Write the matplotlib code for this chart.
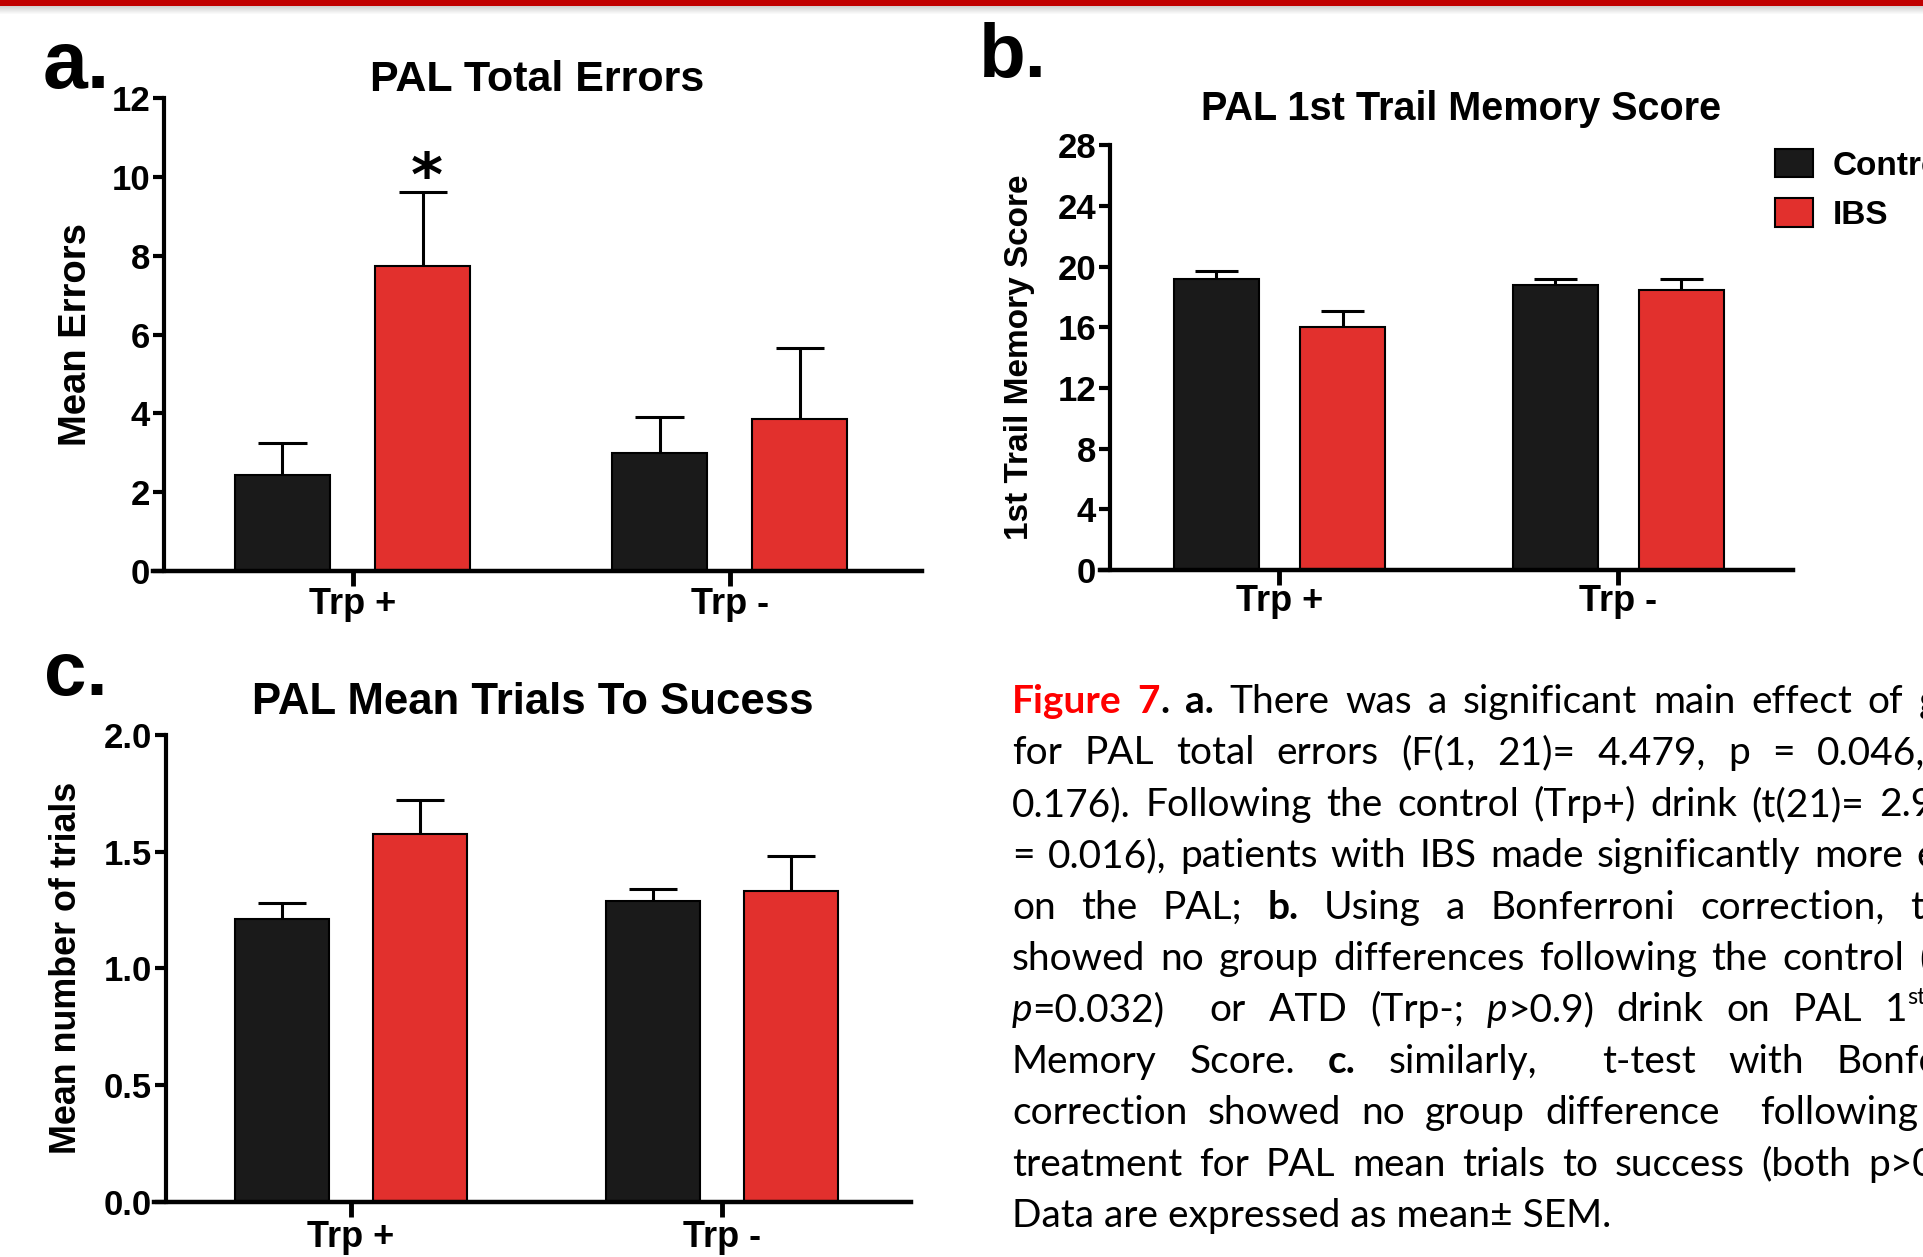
import numpy as np
import matplotlib
matplotlib.use('Agg')
import matplotlib.pyplot as plt
from matplotlib.patches import Rectangle, Patch

W, H = 1924, 1257

groups = ['Trp +', 'Trp -']
series = ['Control', 'IBS']

# a. PAL total errors (mean, SEM)
err_ctrl = [2.43, 2.99]
err_ctrl_sem = [0.83, 0.92]
err_ibs = [7.75, 3.86]
err_ibs_sem = [1.87, 1.80]

# b. PAL 1st trail memory score
mem_ctrl = [19.2, 18.78]
mem_ctrl_sem = [0.54, 0.39]
mem_ibs = [16.0, 18.44]
mem_ibs_sem = [1.10, 0.76]

# c. PAL mean trials to success
tri_ctrl = [1.213, 1.288]
tri_ctrl_sem = [0.066, 0.051]
tri_ibs = [1.575, 1.33]
tri_ibs_sem = [0.148, 0.15]

BLACK = '#1a1a1a'
RED = '#e2302d'

plt.rcParams['font.family'] = 'Liberation Sans'
plt.rcParams['font.weight'] = 'bold'
plt.rcParams['mathtext.fontset'] = 'custom'

fig = plt.figure(figsize=(W / 100, H / 100), dpi=100)
fig.patch.set_facecolor('white')


def px_rect(left, right, top, bottom):
    return [left / W, 1 - bottom / H, (right - left) / W, (bottom - top) / H]


def panel(rect, xlim, ctrl, ctrl_sem, ibs, ibs_sem, ymax, yticks, ylabel, ylsize, ylx, xpad):
    ax = fig.add_axes(rect)
    x = np.arange(len(groups))
    for vals, sems, off, col in [(ctrl, ctrl_sem, -0.186, BLACK), (ibs, ibs_sem, 0.186, RED)]:
        xs = x + off
        vals = np.array(vals)
        tops = vals + np.array(sems)
        ax.vlines(xs, vals, tops, color='black', lw=2.2, zorder=1)
        ax.hlines(tops, xs - 0.064, xs + 0.064, color='black', lw=2.2, zorder=1)
        ax.bar(xs, vals, width=0.252, color=col, edgecolor='black', linewidth=1.5, zorder=2)
    ax.set_xlim(*xlim)
    ax.set_ylim(0, ymax)
    ax.set_yticks(yticks)
    ax.set_xticks(x, groups)
    for s in ['top', 'right']:
        ax.spines[s].set_visible(False)
    ax.spines['left'].set_position(('data', -0.5))
    ax.spines['left'].set_linewidth(3)
    ax.spines['bottom'].set_linewidth(3.2)
    ax.tick_params(axis='y', length=8, width=3, labelsize=25, pad=2)
    ax.tick_params(axis='x', length=11, width=3.5, labelsize=26, pad=xpad)
    ax.set_ylabel(ylabel, fontsize=ylsize, fontweight='bold')
    ax.yaxis.set_label_coords(ylx, 0.5)
    ax.patch.set_alpha(0)
    return ax


ax_a = panel(px_rect(152.7, 922, 98, 571), (-0.53, 1.51),
             err_ctrl, err_ctrl_sem, err_ibs, err_ibs_sem,
             12, [0, 2, 4, 6, 8, 10, 12], 'Mean Errors', 27.5, -0.076, 0.5)
ax_b = panel(px_rect(1099.8, 1793, 145.5, 570), (-0.53, 1.515),
             mem_ctrl, mem_ctrl_sem, mem_ibs, mem_ibs_sem,
             28, [0, 4, 8, 12, 16, 20, 24, 28], '1st Trail Memory Score', 24, -0.0935, -1)
ax_c = panel(px_rect(154.4, 911, 735, 1201.7), (-0.53, 1.51),
             tri_ctrl, tri_ctrl_sem, tri_ibs, tri_ibs_sem,
             2.0, [0.0, 0.5, 1.0, 1.5, 2.0], 'Mean number of trials', 25.8, -0.093, 2.2)
ax_c.yaxis.set_major_formatter(matplotlib.ticker.FormatStrFormatter('%.1f'))

# significance star over IBS Trp+
ax_a.annotate('*', xy=(0.186, err_ibs[0] + err_ibs_sem[0]), xytext=(3, -3),
              textcoords='offset points', ha='center', va='baseline',
              fontsize=44, fontweight='bold', family='DejaVu Sans')

# titles
fig.text(537 / W, 1 - 91 / H, 'PAL Total Errors', ha='center', va='baseline',
         fontsize=31, fontweight='bold')
fig.text(1461 / W, 1 - 120.5 / H, 'PAL 1st Trail Memory Score', ha='center', va='baseline',
         fontsize=28.5, fontweight='bold')
fig.text(533 / W, 1 - 714 / H, 'PAL Mean Trials To Sucess', ha='center', va='baseline',
         fontsize=31.5, fontweight='bold')

# panel letters
fig.text(43 / W, 1 - 88 / H, 'a.', fontsize=58, fontweight='bold', va='baseline')
fig.text(979 / W, 1 - 77 / H, 'b.', fontsize=55, fontweight='bold', va='baseline')
fig.text(44 / W, 1 - 695 / H, 'c.', fontsize=55, fontweight='bold', va='baseline')

# legend
ax_b.legend(handles=[Patch(facecolor=BLACK, edgecolor='black', lw=1.5),
                     Patch(facecolor=RED, edgecolor='black', lw=1.5)],
            labels=series, loc='upper left',
            bbox_to_anchor=(1775 / W, 1 - 149 / H), bbox_transform=fig.transFigure,
            frameon=False, prop=dict(family='Liberation Sans', weight='bold', size=24),
            handlelength=1.14, handleheight=0.93, handletextpad=0.58,
            labelspacing=0.5, borderpad=0, borderaxespad=0)

# red rule along the top with a soft shadow
fig.add_artist(Rectangle((0, 1 - 6 / H), 1, 6 / H, transform=fig.transFigure,
                         color='#c00000', lw=0))
for i in range(8):
    fig.add_artist(Rectangle((0, 1 - (7 + i) / H), 1, 1 / H, transform=fig.transFigure,
                             color='grey', alpha=0.35 * (1 - i / 8), lw=0))

# caption, justified line by line
CAP = dict(family='Lato', fontsize=28)
STY = {
    'n': dict(color='black', weight='normal'),
    'b': dict(color='black', weight='bold'),
    'r': dict(color='#ff0000', weight='bold'),
    'i': dict(color='black', weight='normal', style='italic'),
    's': dict(color='black', weight='normal'),
}

cap_lines = [
    [[('Figure', 'r')], [('7', 'r'), ('.', 'b')], [('a.', 'b')], 'There', 'was', 'a',
     'significant', 'main', 'effect', 'of', 'g'],
    ['for', 'PAL', 'total', 'errors', '(F(1,', '21)=', '4.479,', 'p', '=', '0.046,'],
    ['0.176).', 'Following', 'the', 'control', '(Trp+)', 'drink', '(t(21)=', '2.9'],
    ['=', '0.016),', 'patients', 'with', 'IBS', 'made', 'significantly', 'more', 'e'],
    ['on', 'the', 'PAL;', [('b.', 'b')], 'Using', 'a', 'Bonferroni', 'correction,', 't'],
    ['showed', 'no', 'group', 'differences', 'following', 'the', 'control', '('],
    [[('p', 'i'), ('=0.032)', 'n')], '', 'or', 'ATD', '(Trp-;', [('p', 'i'), ('>0.9)', 'n')],
     'drink', 'on', 'PAL', [('1', 'n'), ('st', 's')]],
    ['Memory', 'Score.', [('c.', 'b')], 'similarly,', '', 't-test', 'with', 'Bonfe'],
    ['correction', 'showed', 'no', 'group', 'difference', '', 'following'],
    ['treatment', 'for', 'PAL', 'mean', 'trials', 'to', 'success', '(both', 'p>0.'],
]
last_word_x = [1919, 1817, 1879, 1916, 1910, 1919, 1885, 1837, 1760, 1868]
cap_left = 1012
cap_base0 = 713
cap_step = 51.4

renderer = fig.canvas.get_renderer()


def put_word(word, x, y):
    segs = [(word, 'n')] if isinstance(word, str) else word
    texts = []
    for txt, st in segs:
        kw = dict(CAP)
        kw.update(STY[st])
        dy = 0
        if st == 's':
            kw['fontsize'] = CAP['fontsize'] * 0.6
            dy = CAP['fontsize'] * 0.45 * 100 / 72
        t = fig.text(x / W, 1 - (y - dy) / H, txt, va='baseline', ha='left', **kw)
        texts.append(t)
    return texts


def word_width(texts):
    return sum(t.get_window_extent(renderer).width for t in texts if t.get_text())


for k, words in enumerate(cap_lines):
    y = cap_base0 + k * cap_step
    objs = [put_word(w, 0, y) for w in words]
    widths = [word_width(o) for o in objs]
    gap = (last_word_x[k] - cap_left - sum(widths[:-1])) / (len(words) - 1)
    x = cap_left
    for o, w in zip(objs, widths):
        xx = x
        for t in o:
            t.set_x(xx / W)
            xx += t.get_window_extent(renderer).width if t.get_text() else 0
        x += w + gap

fig.text(cap_left / W, 1 - (cap_base0 + 10 * cap_step) / H, 'Data are expressed as mean\u00b1 SEM.',
         va='baseline', ha='left', color='black', weight='normal', **CAP)

fig.savefig('out.png', dpi=100)
